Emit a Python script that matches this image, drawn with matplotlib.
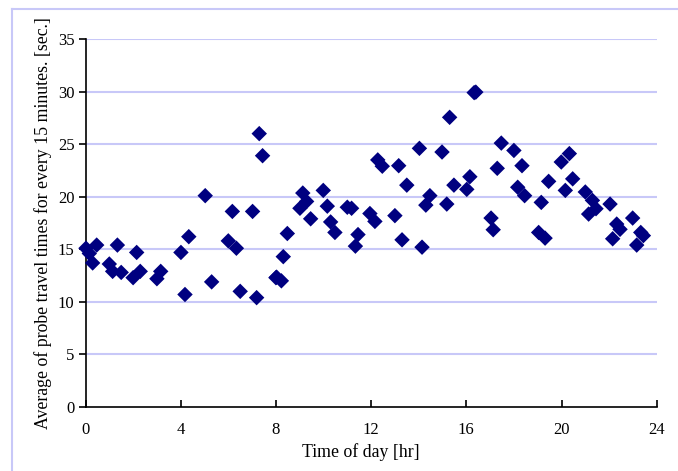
import matplotlib
matplotlib.use("Agg")
import matplotlib.pyplot as plt
from matplotlib.lines import Line2D

hours = [0.02, 0.16, 0.30, 0.47, 1.00, 1.14, 1.34, 1.50, 2.00, 2.15, 2.30, 3.00, 3.16,
         4.01, 4.18, 4.34, 5.03, 5.30, 6.00, 6.17, 6.34, 6.50, 7.02, 7.19, 7.30, 7.44,
         8.00, 8.03, 8.23, 8.31, 8.48, 9.01, 9.13, 9.29, 9.46, 9.99, 10.16, 10.30, 10.48,
         11.00, 11.18, 11.34, 11.45, 11.95, 12.16, 12.28, 12.47, 13.00, 13.16, 13.30, 13.50,
         14.03, 14.14, 14.30, 14.47, 14.98, 15.18, 15.30, 15.48, 16.02, 16.15, 16.33, 16.40,
         17.04, 17.13, 17.30, 17.47, 18.00, 18.16, 18.34, 18.45, 19.04, 19.15, 19.31, 19.46,
         19.99, 20.16, 20.33, 20.47, 21.00, 21.14, 21.30, 21.45, 22.04, 22.15, 22.32, 22.46,
         22.99, 23.16, 23.33, 23.44]
times = [15.1, 14.6, 13.7, 15.4, 13.6, 12.9, 15.4, 12.8, 12.3, 14.7, 12.9, 12.2, 12.9,
         14.7, 10.7, 16.2, 20.1, 11.9, 15.8, 18.6, 15.1, 11.0, 18.6, 10.4, 26.0, 23.9,
         12.3, 12.35, 12.0, 14.3, 16.5, 18.9, 20.35, 19.55, 17.9, 20.6, 19.1, 17.6, 16.6,
         19.0, 18.9, 15.3, 16.4, 18.4, 17.65, 23.5, 22.9, 18.2, 22.95, 15.9, 21.1,
         24.6, 15.2, 19.2, 20.1, 24.25, 19.3, 27.55, 21.1, 20.7, 21.9, 29.9, 29.95,
         17.97, 16.86, 22.7, 25.1, 24.4, 20.9, 22.95, 20.1, 16.6, 19.46, 16.06, 21.46,
         23.3, 20.6, 24.1, 21.7, 20.45, 18.35, 19.65, 18.86, 19.3, 16.0, 17.4, 16.9,
         17.97, 15.4, 16.6, 16.3]

xticks = [0, 4, 8, 12, 16, 20, 24]
yticks = [0, 5, 10, 15, 20, 25, 30, 35]

plt.rcParams['font.family'] = ['Liberation Serif', 'DejaVu Serif']

fig = plt.figure(figsize=(6.78, 4.71), dpi=100)
ax = fig.add_axes([85.5/678, 1-407/471, (656.7-85.5)/678, (407-39)/471])

for y in yticks[1:]:
    ax.axhline(y, color='#c8c8f8', lw=1.5, zorder=1)

ax.scatter(hours, times, marker='D', s=62, color='#000080', edgecolors='none', zorder=3, clip_on=False)

ax.set_xlim(0, 24)
ax.set_ylim(0, 35)
ax.set_xticks(xticks)
ax.set_yticks(yticks)
ax.spines['top'].set_visible(False)
ax.spines['right'].set_visible(False)
ax.spines['left'].set_linewidth(1.2)
ax.spines['bottom'].set_linewidth(1.2)
ax.tick_params(axis='y', direction='out', length=5, width=1.2, labelsize=12, pad=3)
ax.tick_params(axis='x', direction='in', length=5, width=1.2, labelsize=12, pad=11)
ax.set_xlabel('Time of day [hr]', fontsize=12.8)
ax.set_ylabel('Average of probe travel times for every 15 minutes. [sec.]', fontsize=12.8)
ax.xaxis.set_label_coords(0.482, -0.098)
ax.yaxis.set_label_coords(-0.059, 0.5)

fig.add_artist(Line2D([11.5/678, 11.5/678], [0, 1-8.5/471], transform=fig.transFigure, color='#c8c8f8', lw=1.5))
fig.add_artist(Line2D([11.5/678, 1], [1-8.5/471, 1-8.5/471], transform=fig.transFigure, color='#c8c8f8', lw=1.5))

fig.savefig('out.png', dpi=100)
